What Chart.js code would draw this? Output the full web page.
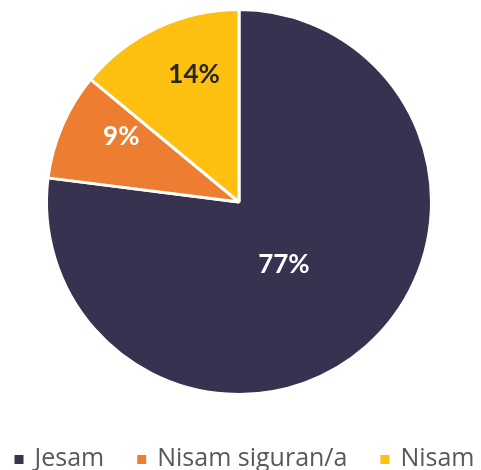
<!DOCTYPE html>
<html lang="hr">
<head>
<meta charset="UTF-8">
<title>Pie</title>
<script src="https://cdn.jsdelivr.net/npm/chart.js"></script>
<style>
  html, body { margin: 0; padding: 0; background: #fff; }
  #wrap { width: 481px; height: 470px; }
</style>
</head>
<body>
<div id="wrap"><canvas id="pie"></canvas></div>
<script>
// data
const labels = ["Jesam", "Nisam siguran/a", "Nisam"];
const values = [77, 9, 14];
const colors = ["#37324f", "#ed7d31", "#fdbf10"];
const labelColors = ["#ffffff", "#ffffff", "#262626"];

// percent labels inside slices
const sliceLabels = {
    id: "sliceLabels",
    afterDatasetsDraw(chart) {
        const ctx = chart.ctx;
        const meta = chart.getDatasetMeta(0);
        const total = values.reduce((a, b) => a + b, 0);
        ctx.save();
        ctx.font = "bold 26px Lato";
        ctx.textAlign = "center";
        ctx.textBaseline = "middle";
        meta.data.forEach((arc, i) => {
            const p = arc.getProps(["x", "y", "startAngle", "endAngle", "outerRadius"], true);
            // nudge a bit clockwise, like the office "best fit" placement
            const mid = (p.startAngle + p.endAngle) / 2 + 0.1;
            const share = values[i] / total;
            const r = p.outerRadius * (share > 0.5 ? 0.4 : 0.7);
            ctx.fillStyle = labelColors[i];
            ctx.fillText(Math.round(share * 100) + "%", p.x + Math.cos(mid) * r, p.y + Math.sin(mid) * r);
        });
        ctx.restore();
    }
};

// legend row at the bottom
const legendRow = {
    id: "legendRow",
    afterDraw(chart) {
        const ctx = chart.ctx;
        const box = 9, gap = 11, spacing = 33;
        ctx.save();
        ctx.font = "25px 'Open Sans'";
        ctx.textBaseline = "alphabetic";
        let widths = labels.map(t => box + gap + ctx.measureText(t).width);
        let total = widths.reduce((a, b) => a + b, 0) + spacing * (labels.length - 1);
        let x = (chart.width - total) / 2 + 4;
        const base = 466;
        labels.forEach((t, i) => {
            ctx.fillStyle = colors[i];
            ctx.fillRect(x, base - 11, box, box);
            ctx.fillStyle = "#595959";
            ctx.fillText(t, x + box + gap, base);
            x += widths[i] + spacing;
        });
        ctx.restore();
    }
};

new Chart(document.getElementById("pie"), {
    type: "pie",
    data: {
        labels: labels,
        datasets: [{
            data: values,
            backgroundColor: colors,
            borderColor: "#ffffff",
            borderWidth: 3
        }]
    },
    options: {
        responsive: true,
        maintainAspectRatio: false,
        animation: false,
        layout: { padding: { top: 8, bottom: 74, left: 45, right: 48 } },
        plugins: {
            legend: { display: false },
            tooltip: { enabled: false }
        }
    },
    plugins: [sliceLabels, legendRow]
});
</script>
</body>
</html>
